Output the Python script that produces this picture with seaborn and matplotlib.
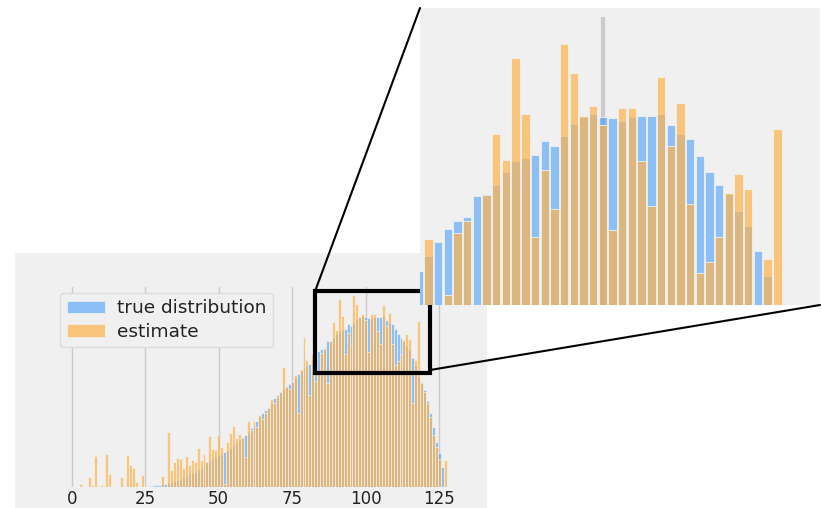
import numpy as np
import pandas as pd
import matplotlib
matplotlib.use("Agg")
import matplotlib.pyplot as plt
import seaborn as sns
from matplotlib.patches import Rectangle, ConnectionPatch

# ---------------- data ----------------
bins = list(range(128))

true_vals = [0] * 25 + [
    1, 1.5, 1.5, 2, 2, 2.5, 3, 3.5,
    4, 5, 6, 7, 8, 10, 11, 13, 14, 15, 17, 19, 22, 25, 26, 28, 30,
    32, 33, 35, 37, 39, 42, 44, 47, 50, 52,
    55, 59, 62, 66, 70, 74, 77, 80, 84, 89,
    92, 95, 98, 101, 103, 106, 110, 113, 116, 119, 121,
    123.2, 127.8, 132.0, 135.8, 138.3, 139.5, 145.8, 146.3, 149.3, 153.0,
    156.4, 157.2, 158.4, 162.6, 161.0, 163.9, 167.8, 169.9, 170.6, 169.8,
    169.4, 168.6, 169.8, 170.2, 170.2, 170.6, 167.3, 164.7, 163.0, 158.1,
    153.0, 149.2, 146.4, 141.3, 136.7, 129.1, 121.6, 110, 105, 97,
    86, 74, 60, 45, 34, 20, 0,
]

est_vals = [
    0, 0, 0, 3, 0, 0, 10, 2, 31, 0,
    2, 0, 33, 13, 0, 0, 0, 10, 0, 32,
    22, 19, 5, 0, 12, 0, 0, 0, 0, 0,
    0, 11, 0, 55, 17, 25, 29, 28, 19, 31,
    22, 27, 25, 39, 27, 33, 25, 51, 38, 37,
    52, 40, 3, 45, 54, 61, 49, 53, 49, 30,
    66, 57, 66, 60, 72, 68, 74, 79, 88, 84,
    90, 95, 120, 100, 98, 105, 112, 74, 118, 150,
    127, 92, 132.8, 106, 115.7, 134.5, 138.3, 104, 146.0, 164.6,
    156.8, 187.8, 170.6, 133.3, 153.8, 142.0, 192.0, 183.1, 170.1, 173.0,
    167.3, 135.4, 172.6, 172.6, 156.4, 142.9, 181.9, 161.0, 173.9, 143.3,
    122.4, 125.8, 133.3, 146.8, 152.6, 148.0, 84, 126.6, 166.0, 104,
    95, 84, 70, 52, 40, 28, 0, 27,
]

tick_values = [0, 25, 50, 75, 100, 125]
tick_labels = ["0", "25", "50", "75", "100", "125"]
series_labels = ["true distribution", "estimate"]

df = pd.DataFrame({"bin": bins, "true": true_vals, "est": est_vals})

# ---------------- style ----------------
sns.set_style("white")
plt.rcParams["font.family"] = ["DejaVu Sans"]

BG = "#f0f0f0"
GRID = "#cbcbcb"
BLUE = "#2b90fe"
ORANGE = "#fdb44c"

W, H = 821, 508
fig = plt.figure(figsize=(W / 100, H / 100), dpi=100, facecolor="white")


def fx(px):
    return px / W


def fy(py):
    return 1 - py / H


# grey background of the main (cropped) figure, as a bare axes behind everything
bg_ax = fig.add_axes([fx(15), fy(508), fx(487) - fx(15), fy(253) - fy(508)], zorder=-5)
bg_ax.set_facecolor(BG)
bg_ax.set_xticks([])
bg_ax.set_yticks([])
for s in bg_ax.spines.values():
    s.set_visible(False)

# ---------------- main axes ----------------
ax = fig.add_axes([fx(51.1), fy(487), fx(465.7) - fx(51.1), 200 / H], zorder=1)
ax.set_facecolor(BG)
ax.set_axisbelow(True)
ax.grid(axis="x", color=GRID, lw=1.0)
ax.grid(axis="y", visible=False)

sns.histplot(data=df, x="bin", weights="true", discrete=True, color=BLUE,
             alpha=0.5, edgecolor=BG, linewidth=0.5, label=series_labels[0], ax=ax)
sns.histplot(data=df, x="bin", weights="est", discrete=True, color=ORANGE,
             alpha=0.7, edgecolor=BG, linewidth=0.5, label=series_labels[1], ax=ax)

ax.set_xlim(-7, 134)
ax.set_ylim(0, 200)
for s in ax.spines.values():
    s.set_visible(False)
ax.set_xticks(tick_values)
ax.set_xticklabels(tick_labels)
ax.set_yticks([])
ax.set_xlabel("")
ax.set_ylabel("")
ax.tick_params(axis="x", length=0, labelsize=12, labelcolor="#222222", pad=2.0)

leg = ax.legend(loc="upper left", bbox_to_anchor=(0.022, 0.97), borderaxespad=0,
                fontsize=13.3, frameon=True, fancybox=True, facecolor=BG,
                edgecolor="#dcdcdc", framealpha=1.0, handlelength=2.05,
                handletextpad=0.7, labelspacing=0.3, borderpad=0.35)
for t in leg.get_texts():
    t.set_color("#222222")

# zoom rectangle
ax.add_patch(Rectangle((82.8, 114), 121.9 - 82.8, 196 - 114, fill=False,
                       edgecolor="black", lw=3, zorder=5, clip_on=False))

# ---------------- inset (zoomed) axes ----------------
axin = fig.add_axes([fx(420), fy(305), fx(820) - fx(420), fy(8) - fy(305)], zorder=3)
axin.set_facecolor(BG)
axin.vlines(100, 112.8, 200, color=GRID, lw=3, zorder=0.5)
sns.histplot(data=df, x="bin", weights="true", discrete=True, color=BLUE,
             alpha=0.5, edgecolor=BG, linewidth=0.6, shrink=0.86, ax=axin)
sns.histplot(data=df, x="bin", weights="est", discrete=True, color=ORANGE,
             alpha=0.7, edgecolor=BG, linewidth=0.6, shrink=0.86, ax=axin)
axin.set_xlim(81.13, 122.4)
axin.set_ylim(112.8, 202.8)
for s in axin.spines.values():
    s.set_visible(False)
axin.set_xticks([])
axin.set_yticks([])
axin.set_xlabel("")
axin.set_ylabel("")
axin.grid(False)

# connector lines
con1 = ConnectionPatch(xyA=(82.8, 196), coordsA=ax.transData,
                       xyB=(0, 1), coordsB=axin.transAxes,
                       color="black", lw=1.5, zorder=6)
con2 = ConnectionPatch(xyA=(121.9, 117), coordsA=ax.transData,
                       xyB=(1, 0), coordsB=axin.transAxes,
                       color="black", lw=1.5, zorder=6)
fig.add_artist(con1)
fig.add_artist(con2)

fig.savefig("out.png", dpi=100, facecolor="white")
